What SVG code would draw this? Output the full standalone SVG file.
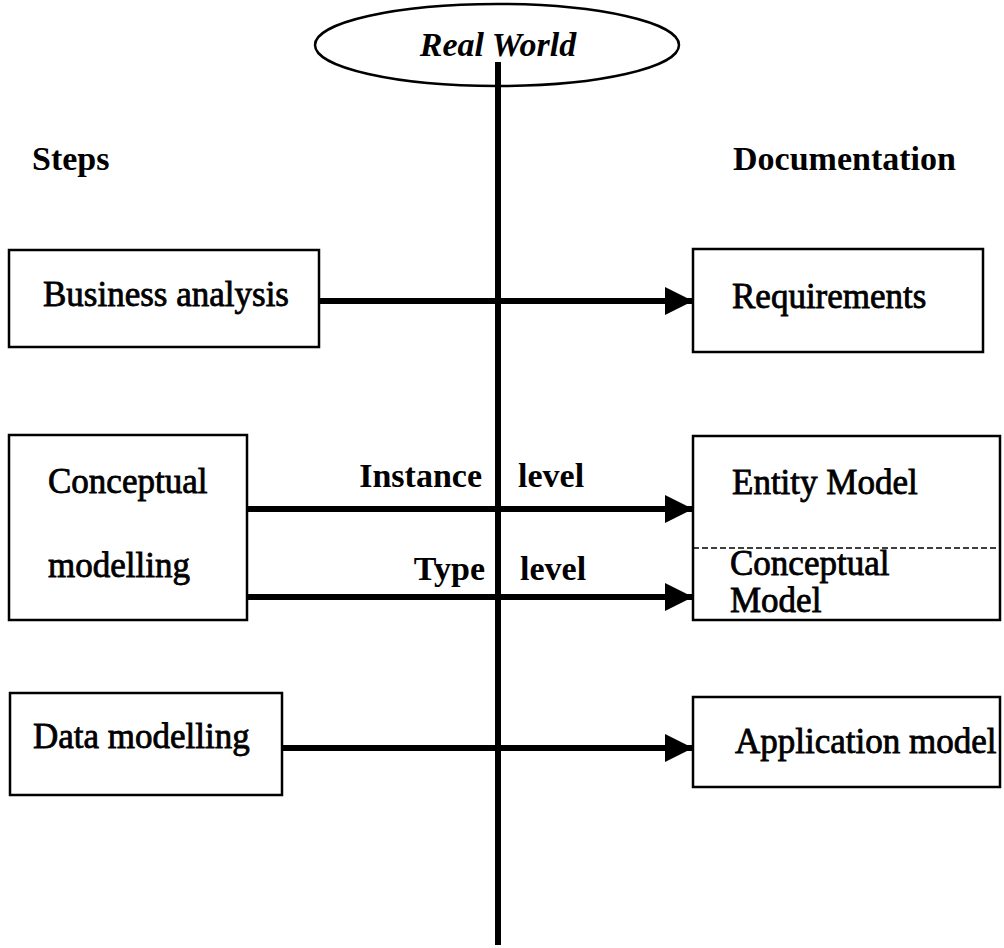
<svg xmlns="http://www.w3.org/2000/svg" width="1004" height="948" viewBox="0 0 1004 948">
<style>
.box{fill:#fff;stroke:#000;stroke-width:2.5}
.t{font-family:"Liberation Serif","Times New Roman",serif;font-size:35px;fill:#000;stroke:#000;stroke-width:0.8}
.b{font-family:"Liberation Serif","Times New Roman",serif;font-size:34px;font-weight:bold;fill:#000}
.conn{stroke:#000;stroke-width:6;fill:none}
</style>
<defs>
<marker id="ah" markerUnits="userSpaceOnUse" markerWidth="30" markerHeight="30" refX="28" refY="14" orient="auto" viewBox="0 0 30 30">
<path d="M0,0 L28,14 L0,28 z" fill="#000"/>
</marker>
</defs>
<rect width="1004" height="948" fill="#fff"/>
<g id="real-world">
<ellipse cx="497" cy="45" rx="182" ry="41" fill="#fff" stroke="#000" stroke-width="2.5"/>
<text x="498" y="56" class="b" font-style="italic" text-anchor="middle">Real World</text>
</g>
<g id="headers">
<text x="32" y="170" class="b">Steps</text>
<text x="733" y="170" class="b">Documentation</text>
</g>
<g id="business-analysis">
<rect class="box" x="9" y="250" width="310" height="97"/>
<text class="t" x="43" y="306">Business analysis</text>
</g>
<g id="requirements">
<rect class="box" x="693" y="249" width="290" height="103"/>
<text class="t" x="732" y="308">Requirements</text>
</g>
<g id="conceptual-modelling">
<rect class="box" x="9" y="435" width="238" height="185"/>
<text class="t" x="48" y="493">Conceptual</text>
<text class="t" x="48" y="577">modelling</text>
</g>
<g id="entity-conceptual-model">
<rect class="box" x="693" y="436" width="307" height="184"/>
<line x1="693" y1="548" x2="1000" y2="548" stroke="#000" stroke-width="1.5" stroke-dasharray="6,3"/>
<text class="t" x="732" y="494">Entity Model</text>
<text class="t" x="730" y="575">Conceptual</text>
<text class="t" x="730" y="612">Model</text>
</g>
<g id="data-modelling">
<rect class="box" x="10" y="693" width="272" height="102"/>
<text class="t" x="33" y="748">Data modelling</text>
</g>
<g id="application-model">
<rect class="box" x="693" y="697" width="307" height="90"/>
<text class="t" x="735" y="753">Application model</text>
</g>
<g id="connectors">
<line class="conn" x1="498" y1="62" x2="498" y2="945" stroke-width="5"/>
<line class="conn" x1="319" y1="301" x2="693" y2="301" marker-end="url(#ah)"/>
<line class="conn" x1="247" y1="509" x2="693" y2="509" marker-end="url(#ah)"/>
<line class="conn" x1="247" y1="597" x2="693" y2="597" marker-end="url(#ah)"/>
<line class="conn" x1="282" y1="748" x2="693" y2="748" marker-end="url(#ah)"/>
<text class="b" x="482" y="487" text-anchor="end">Instance</text>
<text class="b" x="518" y="487">level</text>
<text class="b" x="485" y="580" text-anchor="end">Type</text>
<text class="b" x="520" y="580">level</text>
</g>
</svg>
